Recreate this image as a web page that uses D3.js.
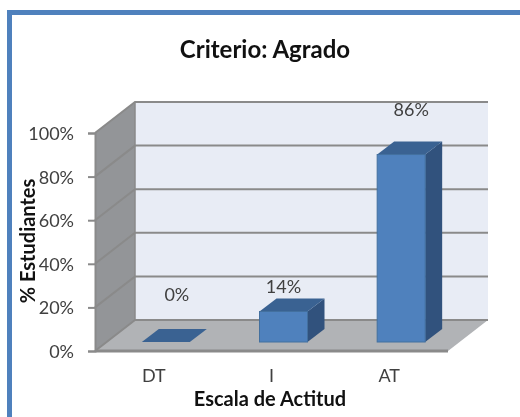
<!DOCTYPE html>
<html>
<head>
<meta charset="utf-8">
<script src="https://cdn.jsdelivr.net/npm/d3@7"></script>
<style>
    html, body { margin: 0; padding: 0; background: #fff; }
    svg { display: block; filter: blur(0.4px); }
    text { font-family: Lato, "Open Sans", sans-serif; }
</style>
</head>
<body>
<svg></svg>
<script>
var categories = ["DT", "I", "AT"];
var values = [0, 14, 86];
var yTicks = [0, 20, 40, 60, 80, 100];

var svgWidth = 520;
var svgHeight = 417;

//front edge of the floor and depth of the 3d box
var x0 = 95, x1 = 448, yBottom = 351, yTop = 133;
var depthX = 40, depthY = -31;
//bars sit a little behind the front edge
var barInsetX = 12, barInsetY = -9, barWidth = 48, barDepthX = 17, barDepthY = -13;

var svg = d3.select("svg")
    .attr("width", svgWidth)
    .attr("height", svgHeight);

var xScale = d3.scaleBand().domain(categories).range([x0, x1]);
var yScale = d3.scaleLinear().domain([0, 100]).range([yBottom, yTop]);
var line = d3.line();

//frame
svg.append("path")
    .attr("d", line([[9.5, svgHeight], [9.5, 12.5], [svgWidth, 12.5]]))
    .attr("fill", "none")
    .attr("stroke", "#4f81bd")
    .attr("stroke-width", 5);

//walls
function poly(points, fill) {
    svg.append("path")
        .attr("d", line(points) + "Z")
        .attr("fill", fill);
}
var y0 = yScale(0), y100 = yScale(100);
poly([[x0 + depthX, y100 + depthY], [x1 + depthX, y100 + depthY], [x1 + depthX, y0 + depthY], [x0 + depthX, y0 + depthY]], "#e8ecf5");
poly([[x0, y0], [x0, y100], [x0 + depthX, y100 + depthY], [x0 + depthX, y0 + depthY]], "#939598");
poly([[x0, y0], [x1, y0], [x1 + depthX, y0 + depthY], [x0 + depthX, y0 + depthY]], "#b1b3b6");

//gridlines over the left wall and back wall
svg.append("g").selectAll("path")
    .data(yTicks)
    .enter()
    .append("path")
    .attr("d", function(d) {
        var y = yScale(d);
        return line([[x0, y], [x0 + depthX, y + depthY], [x1 + depthX, y + depthY]]);
    })
    .attr("fill", "none")
    .attr("stroke", "#8a8a8a")
    .attr("stroke-width", 2);

svg.append("path")
    .attr("d", line([[x0 + depthX, y0 + depthY], [x0 + depthX, y100 + depthY]]))
    .attr("stroke", "#8a8a8a")
    .attr("stroke-width", 1.5);

//front edge of the floor
svg.append("path")
    .attr("d", line([[x0, y0], [x1, y0]]))
    .attr("stroke", "#8a8a8a")
    .attr("stroke-width", 3);

//y axis
var yAxis = svg.append("g")
    .attr("transform", "translate(" + x0 + ",0)")
    .call(d3.axisLeft(yScale)
        .tickValues(yTicks)
        .tickSize(7)
        .tickPadding(14)
        .tickFormat(function(d) { return d + "%"; }));
yAxis.select(".domain").attr("stroke", "#8a8a8a").attr("stroke-width", 2);
yAxis.selectAll(".tick line").attr("stroke", "#8a8a8a").attr("stroke-width", 2);
yAxis.selectAll("text")
    .attr("fill", "#404040")
    .attr("dy", "0.36em")
    .style("font-size", "18px");

//x axis
var xAxis = svg.append("g")
    .attr("transform", "translate(0," + y0 + ")")
    .call(d3.axisBottom(xScale).tickSize(0).tickPadding(18));
xAxis.select(".domain").remove();
xAxis.selectAll("text")
    .attr("fill", "#404040")
    .style("font-size", "18px");

//bars
var bars = svg.append("g").selectAll("g")
    .data(values)
    .enter()
    .append("g");

function barCorners(d, i) {
    var left = xScale(categories[i]) + (xScale.bandwidth() - barWidth) / 2 + barInsetX;
    return {
        left: left,
        right: left + barWidth,
        top: yScale(d) + barInsetY,
        base: yScale(0) + barInsetY
    };
}

bars.append("path")
    .attr("d", function(d, i) {
        var c = barCorners(d, i);
        return line([[c.right, c.base], [c.right + barDepthX, c.base + barDepthY], [c.right + barDepthX, c.top + barDepthY], [c.right, c.top]]) + "Z";
    })
    .attr("fill", "#31527d");

bars.append("path")
    .attr("d", function(d, i) {
        var c = barCorners(d, i);
        return line([[c.left, c.top], [c.left + barDepthX, c.top + barDepthY], [c.right + barDepthX, c.top + barDepthY], [c.right, c.top]]) + "Z";
    })
    .attr("fill", "#3a6292");

bars.append("rect")
    .attr("x", function(d, i) { return barCorners(d, i).left; })
    .attr("y", function(d, i) { return barCorners(d, i).top; })
    .attr("width", barWidth)
    .attr("height", function(d, i) { var c = barCorners(d, i); return c.base - c.top; })
    .attr("fill", "#4f81bd")
    .attr("stroke", "#43709f")
    .attr("stroke-width", 1);

//data labels, nudged by hand like in the original
var labelNudge = [[11, -33], [0, -10], [10, -30]];
bars.append("text")
    .attr("x", function(d, i) { var c = barCorners(d, i); return c.left + barWidth / 2 + labelNudge[i][0]; })
    .attr("y", function(d, i) { return barCorners(d, i).top + barDepthY + labelNudge[i][1]; })
    .attr("text-anchor", "middle")
    .attr("dominant-baseline", "middle")
    .attr("fill", "#404040")
    .style("font-size", "18px")
    .text(function(d) { return d + "%"; });

//titles
svg.append("text")
    .attr("x", 265)
    .attr("y", 58)
    .attr("text-anchor", "middle")
    .attr("fill", "#111")
    .style("font-size", "24px")
    .style("font-weight", "bold")
    .text("Criterio: Agrado");

svg.append("text")
    .attr("x", 270)
    .attr("y", 406)
    .attr("text-anchor", "middle")
    .attr("fill", "#111")
    .style("font-size", "20px")
    .style("font-weight", "bold")
    .text("Escala de Actitud");

svg.append("text")
    .attr("transform", "translate(35,241) rotate(-90)")
    .attr("text-anchor", "middle")
    .attr("fill", "#111")
    .style("font-size", "20px")
    .style("font-weight", "bold")
    .text("% Estudiantes");
</script>
</body>
</html>
